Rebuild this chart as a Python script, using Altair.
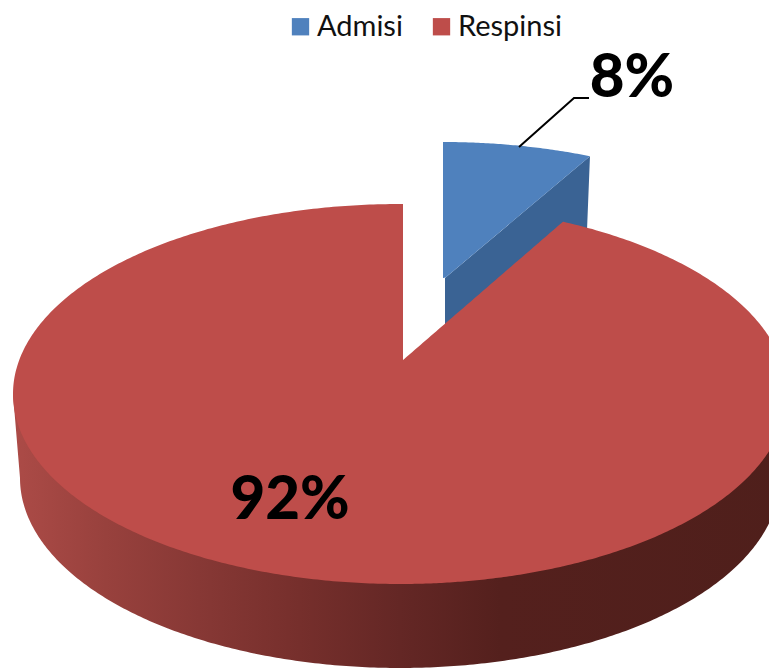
import math
import numpy as np
import pandas as pd
import altair as alt

# chart values
categories = ["Admisi", "Respinsi"]
shares = [8, 92]
labels = ["8%", "92%"]

# drawing style: projected pie
CX, CY, A, B = 400, 394, 387, 190      # top face ellipse, pixel-like scale units
BCX, BCY, BA, BB = 400, 478, 380, 190  # bottom rim ellipse
APEX = (403, 360)
EX_DX, EX_DY = 43, -62                  # explosion offset of Admisi
PERSP_RED, PERSP_BLUE = 0.865, 0.775    # foreshortening of slice angle
BLUE_APEX = (445, 278)
X0, X1, Y0, Y1 = 8, 769, 8, 669
RED, BLUE, BLUE_SIDE = "#BE4D4A", "#4F81BD", "#3A6394"


def upper(x, cx=CX, cy=CY):
    return cy - B * math.sqrt(max(0.0, 1 - ((x - cx) / A) ** 2))


def lower(x, cx=CX, cy=CY, a=A, b=B):
    return cy + b * math.sqrt(max(0.0, 1 - ((x - cx) / a) ** 2))


def rim_xs(cx, a, n=300):
    return [cx - a * math.cos(v) for v in np.linspace(0, math.pi, n)]


ang_red = math.radians(shares[0] * 3.6 * PERSP_RED)
ang_blue = math.radians(shares[0] * 3.6 * PERSP_BLUE)

# red top face
red_end_x = CX + A * math.sin(ang_red)
red_end_y = CY - B * math.cos(ang_red)
rows = []
for x in rim_xs(CX, A):
    if x <= APEX[0]:
        top = upper(x)
    elif x < red_end_x:
        continue
    else:
        top = upper(x)
    rows.append((x, top, lower(x)))
rows.append((APEX[0] + 0.01, APEX[1], lower(APEX[0])))
for x in np.linspace(APEX[0] + 1, red_end_x - 0.01, 60):
    f = (x - APEX[0]) / (red_end_x - APEX[0])
    rows.append((float(x), APEX[1] + f * (red_end_y - APEX[1]), lower(float(x))))
rows.append((APEX[0], upper(APEX[0]), lower(APEX[0])))
rows.sort(key=lambda r: r[0])
red_df = pd.DataFrame(rows, columns=["x", "y", "y2"]).assign(series=categories[1])

# blue top face
bcx, bcy = CX + EX_DX, CY + EX_DY
blue_end_x = bcx + A * math.sin(ang_blue)
blue_end_y = upper(blue_end_x, bcx, bcy)
brow = [(bcx, upper(bcx, bcx, bcy), BLUE_APEX[1])]
for x in np.linspace(bcx + 0.5, blue_end_x, 60):
    x = float(x)
    f = max(0.0, (x - BLUE_APEX[0]) / (blue_end_x - BLUE_APEX[0]))
    brow.append((x, upper(x, bcx, bcy), BLUE_APEX[1] + f * (blue_end_y - BLUE_APEX[1])))
blue_df = pd.DataFrame(brow, columns=["x", "y", "y2"]).assign(series=categories[0])

# blue cut side
sxs = [BLUE_APEX[0], blue_end_x - 3, blue_end_x]
srow = []
for x in sxs[:2]:
    f = (x - BLUE_APEX[0]) / (blue_end_x - BLUE_APEX[0])
    yy = BLUE_APEX[1] + f * (blue_end_y - BLUE_APEX[1])
    srow.append((x, yy, yy + 72))
srow.append((blue_end_x, blue_end_y, blue_end_y))
blue_side_df = pd.DataFrame(srow, columns=["x", "y", "y2"])

# red outer wall
wall = [(CX - A, CY, CY)]
for x in rim_xs(BCX, BA):
    wall.append((x, CY, lower(x, BCX, BCY, BA, BB)))
wall.append((CX + A, CY, CY))
wall_df = pd.DataFrame(wall, columns=["x", "y", "y2"])

xs = alt.Scale(domain=[X0, X1], nice=False)
ys = alt.Scale(domain=[Y0, Y1], reverse=True, nice=False)
X = alt.X("x:Q", scale=xs, axis=None)
Y = alt.Y("y:Q", scale=ys, axis=None)
Y2 = alt.Y2("y2:Q")

wall_grad = alt.Gradient(
    gradient="linear", x1=0, x2=1, y1=0, y2=0,
    stops=[
        alt.GradientStop(offset=0.0, color="#AC4B47"),
        alt.GradientStop(offset=0.12, color="#98413D"),
        alt.GradientStop(offset=0.24, color="#873835"),
        alt.GradientStop(offset=0.37, color="#762F2C"),
        alt.GradientStop(offset=0.50, color="#642725"),
        alt.GradientStop(offset=0.63, color="#54201D"),
        alt.GradientStop(offset=1.0, color="#4F1F1B"),
    ],
)

color = alt.Color(
    "series:N",
    scale=alt.Scale(domain=categories, range=[BLUE, RED]),
    legend=alt.Legend(
        title=None, orient="none", legendX=278, legendY=4, direction="horizontal",
        columns=2, symbolType="square", symbolSize=300, symbolStrokeWidth=0,
        labelFont="Lato", labelFontSize=29, labelColor="#111111", labelOffset=2,
        columnPadding=24, labelLimit=200, symbolOpacity=1,
    ),
)

side_layer = alt.Chart(blue_side_df).mark_area(color=BLUE_SIDE, orient="vertical", clip=True).encode(x=X, y=Y, y2=Y2)
blue_layer = alt.Chart(blue_df).mark_area(orient="vertical", clip=True, opacity=1).encode(x=X, y=Y, y2=Y2, color=color)
wall_layer = alt.Chart(wall_df).mark_area(color=wall_grad, orient="vertical", clip=True).encode(x=X, y=Y, y2=Y2)
red_layer = alt.Chart(red_df).mark_area(orient="vertical", clip=True, opacity=1).encode(x=X, y=Y, y2=Y2, color=color)

leader_df = pd.DataFrame({"x": [519, 574, 589], "y": [147, 98, 98]})
leader = alt.Chart(leader_df).mark_line(color="#000000", strokeWidth=2).encode(
    x=X, y=Y, order=alt.Order("x:Q"))

label_df = pd.DataFrame({"x": [632, 290], "y": [79, 501], "t": labels})
text = alt.Chart(label_df).mark_text(
    font="Lato", fontWeight=900, fontSize=60, color="#000000", align="center", baseline="middle"
).encode(x=X, y=Y, text="t:N")

chart = alt.layer(side_layer, blue_layer, wall_layer, red_layer, leader, text).properties(
    width=761, height=661, padding=0,
    autosize=alt.AutoSizeParams(type="none"),
).configure_view(stroke=None)

chart.save("out.html", embed_options={"renderer": "svg", "actions": False})
